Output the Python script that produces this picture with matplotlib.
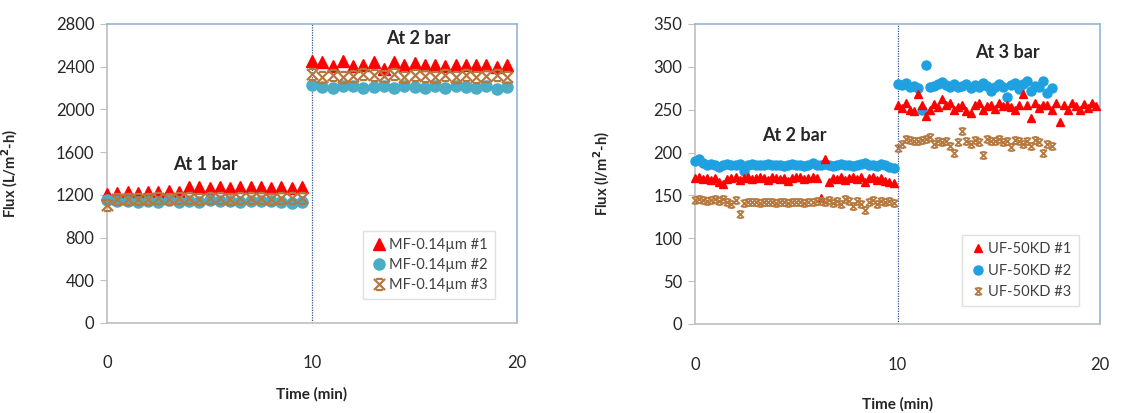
import numpy as np
import matplotlib
matplotlib.use('Agg')
import matplotlib.pyplot as plt
from matplotlib.path import Path

plt.rcParams['font.family'] = ['Lato', 'DejaVu Sans']

# sampling interval (min)
MF_STEP = 0.5
UF_STEP = 0.2

# MF-0.14um, 1 bar (0-9.5 min) and 2 bar (10-19.5 min)
mf1_low = [1205, 1215, 1225, 1215, 1230, 1225, 1240, 1230, 1270, 1275,
           1260, 1270, 1260, 1275, 1270, 1275, 1265, 1270, 1265, 1275]
mf1_high = [2450, 2440, 2410, 2450, 2410, 2420, 2440, 2380, 2440, 2420,
            2430, 2420, 2420, 2410, 2420, 2420, 2420, 2420, 2400, 2420]
mf2_low = [1150, 1140, 1145, 1130, 1145, 1135, 1150, 1130, 1145, 1130,
           1150, 1140, 1140, 1130, 1145, 1140, 1140, 1135, 1120, 1135]
mf2_high = [2230, 2210, 2200, 2220, 2220, 2200, 2210, 2220, 2200, 2220,
            2210, 2200, 2220, 2200, 2220, 2210, 2200, 2220, 2190, 2210]
mf3_low = [1100, 1160, 1160, 1160, 1160, 1170, 1165, 1170, 1170, 1165,
           1170, 1170, 1165, 1170, 1170, 1170, 1165, 1170, 1170, 1170]
mf3_high = [2330, 2300, 2320, 2300, 2310, 2330, 2320, 2310, 2330, 2300,
            2320, 2310, 2300, 2320, 2300, 2320, 2300, 2310, 2320, 2300]

# UF-50KD, 2 bar (0-9.8 min) and 3 bar (from 10 min)
uf1_low = [170, 171, 169, 170, 168, 170, 166, 163, 169, 170,
           171, 168, 170, 171, 169, 170, 171, 170, 168, 171,
           170, 169, 170, 167, 170, 171, 172, 169, 170, 171,
           170, 147, 193, 166, 170, 169, 172, 168, 170, 171,
           169, 172, 166, 170, 171, 168, 170, 167, 166, 165]
uf1_high = [255, 252, 258, 250, 249, 268, 255, 243, 250, 257,
            253, 262, 255, 258, 250, 253, 255, 249, 246, 255,
            258, 250, 254, 256, 251, 258, 254, 256, 253, 250,
            255, 268, 255, 240, 258, 252, 256, 255, 250, 258,
            236, 256, 250, 258, 254, 250, 257, 252, 258, 254]
uf2_low = [190, 193, 188, 185, 187, 186, 183, 186, 187, 186,
           185, 187, 178, 186, 187, 185, 186, 186, 187, 186,
           185, 186, 184, 186, 187, 186, 185, 184, 186, 188,
           186, 185, 187, 185, 184, 186, 187, 185, 186, 184,
           186, 187, 188, 186, 185, 184, 187, 185, 183, 182]
uf2_high = [280, 279, 281, 276, 278, 275, 250, 302, 276, 278,
            280, 282, 279, 276, 280, 277, 278, 280, 275, 279,
            276, 281, 278, 272, 277, 280, 276, 265, 279, 281,
            274, 280, 283, 272, 278, 276, 284, 270, 275]
uf3_low = [145, 146, 145, 144, 145, 146, 143, 146, 142, 140,
           145, 128, 141, 142, 142, 142, 141, 142, 142, 142,
           141, 142, 142, 141, 142, 142, 142, 141, 142, 142,
           143, 144, 142, 145, 141, 143, 140, 146, 143, 138,
           144, 140, 133, 142, 145, 140, 144, 142, 143, 141]
uf3_high = [205, 210, 216, 215, 214, 214, 215, 216, 218, 210,
            213, 212, 213, 208, 200, 212, 225, 214, 210, 215,
            212, 197, 216, 214, 213, 216, 212, 214, 206, 215,
            213, 210, 214, 208, 215, 212, 200, 210, 208]

RED = '#FF0000'
BROWN = '#B5793F'
TEXT = '#262626'

# x with bars on top and bottom (Excel style marker)
star_x = Path([(-1, -1), (1, 1), (-1, 1), (1, -1),
               (-0.6, 1), (0.6, 1), (-0.6, -1), (0.6, -1)],
              [Path.MOVETO, Path.LINETO] * 4)


def times(vals, start, step):
    return start + np.arange(len(vals)) * step


def style_axes(ax, ymax, ystep, ylabel, xpad, xlab_y, ylab_x):
    ax.set_xlim(0, 20)
    ax.set_ylim(0, ymax)
    ax.set_xticks([0, 10, 20])
    ax.set_yticks(np.arange(0, ymax + 1, ystep))
    for s in ['left', 'bottom']:
        ax.spines[s].set_color('#BFBFBF')
        ax.spines[s].set_linewidth(1.2)
    for s in ['top', 'right']:
        ax.spines[s].set_color('#95B3D7')
        ax.spines[s].set_linewidth(1.2)
    ax.tick_params(axis='y', length=5, color='#BFBFBF', labelsize=12, labelcolor=TEXT, pad=4)
    ax.tick_params(axis='x', length=0, labelsize=12, labelcolor=TEXT, pad=xpad)
    ax.axvline(10, color='#2F5597', linestyle=(0, (1, 1)), linewidth=0.9, zorder=1)
    ax.set_xlabel('Time (min)', fontsize=11, fontweight='bold', color=TEXT)
    ax.xaxis.set_label_coords(0.5, xlab_y)
    ax.set_ylabel(ylabel, fontsize=10.5, fontweight='bold', color=TEXT)
    ax.yaxis.set_label_coords(ylab_x, 0.5)


fig = plt.figure(figsize=(11.21, 4.13), dpi=100)

# ---- left: MF ----
ax1 = fig.add_axes([0.0955, 0.218, 0.3657, 0.724])
kw = dict(linestyle='none', clip_on=False, zorder=3)
ax1.plot(np.concatenate([times(mf1_low, 0, MF_STEP), times(mf1_high, 10, MF_STEP)]),
         mf1_low + mf1_high, marker='^', color=RED, markersize=9, label='MF-0.14µm #1', **kw)
ax1.plot(np.concatenate([times(mf2_low, 0, MF_STEP), times(mf2_high, 10, MF_STEP)]),
         mf2_low + mf2_high, marker='o', color='#4BACC6', markersize=8, label='MF-0.14µm #2', **kw)
ax1.plot(np.concatenate([times(mf3_low, 0, MF_STEP), times(mf3_high, 10, MF_STEP)]),
         mf3_low + mf3_high, marker=star_x, color=BROWN, markerfacecolor='none',
         markeredgewidth=1.6, markersize=8, label='MF-0.14µm #3', **kw)
style_axes(ax1, 2800, 400, 'Flux (L/m$^{\\mathbf{2}}$-h)', 23, -0.215, -0.212)
ax1.text(4.8, 1480, 'At 1 bar', fontsize=13, fontweight='bold', color=TEXT, ha='center', va='center')
ax1.text(15.2, 2660, 'At 2 bar', fontsize=13, fontweight='bold', color=TEXT, ha='center', va='center')
ax1.legend(loc='lower right', bbox_to_anchor=(0.965, 0.055), fontsize=10.5, frameon=True,
           fancybox=False, edgecolor='#E0E0E0', framealpha=1, handletextpad=0.1,
           handlelength=1.2, borderpad=0.5, labelspacing=0.4, labelcolor='#404040')

# ---- right: UF ----
ax2 = fig.add_axes([0.62, 0.2155, 0.3614, 0.7265])
kw = dict(linestyle='none', clip_on=False, zorder=3)
ax2.plot(np.concatenate([times(uf2_low, 0, UF_STEP), times(uf2_high, 10, UF_STEP)]),
         uf2_low + uf2_high, marker='o', color='#1FA0E0', markersize=6.5, label='UF-50KD #2', **kw)
ax2.plot(np.concatenate([times(uf1_low, 0, UF_STEP), times(uf1_high, 10, UF_STEP)]),
         uf1_low + uf1_high, marker='^', color=RED, markersize=6, label='UF-50KD #1', **kw)
ax2.plot(np.concatenate([times(uf3_low, 0, UF_STEP), times(uf3_high, 10, UF_STEP)]),
         uf3_low + uf3_high, marker=star_x, color=BROWN, markerfacecolor='none',
         markeredgewidth=1.3, markersize=5, label='UF-50KD #3', **kw)
style_axes(ax2, 350, 50, 'Flux (l/m$^{\\mathbf{2}}$-h)', 24, -0.245, -0.204)
ax2.text(4.9, 220, 'At 2 bar', fontsize=13, fontweight='bold', color=TEXT, ha='center', va='center')
ax2.text(15.4, 317, 'At 3 bar', fontsize=13, fontweight='bold', color=TEXT, ha='center', va='center')
h, l = ax2.get_legend_handles_labels()
order = [1, 0, 2]
ax2.legend([h[i] for i in order], [l[i] for i in order], loc='lower right',
           bbox_to_anchor=(0.965, 0.035), fontsize=10.5, frameon=True,
           fancybox=False, edgecolor='#E0E0E0', framealpha=1, handletextpad=0.1,
           handlelength=1.2, borderpad=0.5, labelspacing=0.5, labelcolor='#404040')

fig.savefig('out.png', dpi=100)
